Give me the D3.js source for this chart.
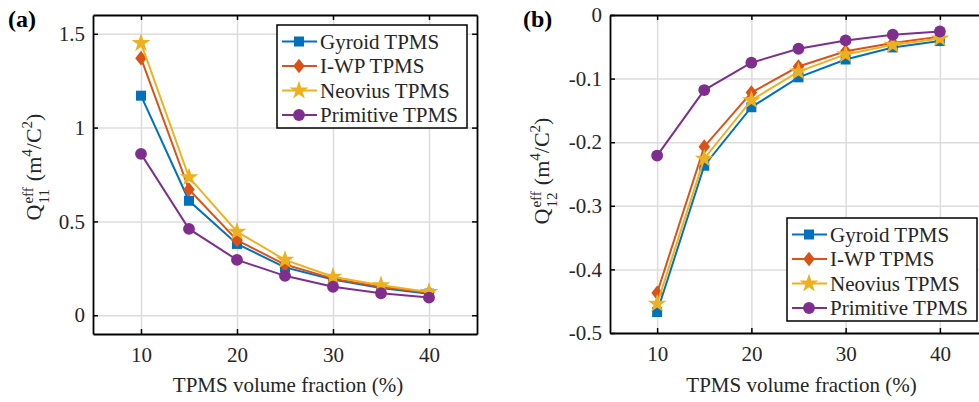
<!DOCTYPE html>
<html>
<head>
<meta charset="utf-8">
<script src="https://cdn.jsdelivr.net/npm/d3@7"></script>
<style>
  body { margin: 0; background: #fff; }
  svg { display: block; font-family: "Liberation Serif", "Times New Roman", serif; }
</style>
</head>
<body>
<svg id="chart" width="979" height="402"></svg>
<script>
// values
var fractions = [10, 15, 20, 25, 30, 35, 40];
var seriesNames = ["Gyroid TPMS", "I-WP TPMS", "Neovius TPMS", "Primitive TPMS"];

var gyroidQ11 = [1.17, 0.61, 0.38, 0.255, 0.19, 0.145, 0.115];
var iwpQ11 = [1.37, 0.67, 0.40, 0.27, 0.195, 0.15, 0.12];
var neoviusQ11 = [1.45, 0.735, 0.445, 0.295, 0.205, 0.16, 0.124];
var primitiveQ11 = [0.86, 0.46, 0.295, 0.21, 0.152, 0.117, 0.094];

var gyroidQ12 = [-0.467, -0.237, -0.145, -0.098, -0.070, -0.051, -0.041];
var iwpQ12 = [-0.437, -0.207, -0.122, -0.081, -0.057, -0.044, -0.034];
var neoviusQ12 = [-0.454, -0.226, -0.134, -0.089, -0.062, -0.047, -0.037];
var primitiveQ12 = [-0.221, -0.118, -0.075, -0.053, -0.040, -0.031, -0.026];

var xTicks = [10, 20, 30, 40];
var yTicksA = [0, 0.5, 1, 1.5];
var yTicksB = [-0.5, -0.4, -0.3, -0.2, -0.1, 0];

var colors = ["#0072BD", "#D95319", "#EDB120", "#7E2F8E"];
var textColor = "#262626";

var diamondType = {
  draw: function (ctx, size) {
    var r = Math.sqrt(size);
    ctx.moveTo(0, -r * 0.7);
    ctx.lineTo(r * 0.55, 0);
    ctx.lineTo(0, r * 0.7);
    ctx.lineTo(-r * 0.55, 0);
    ctx.closePath();
  }
};
var markerTypes = [d3.symbolSquare, diamondType, d3.symbolStar, d3.symbolCircle];
var markerSizes = [100, 110, 110, 110];

var svg = d3.select("#chart");

function drawPanel(p) {
  var x = d3.scaleLinear().domain([5, 45]).range([p.left, p.left + p.width]);
  var y = d3.scaleLinear().domain(p.yDomain).range([p.top + p.height, p.top]);
  var g = svg.append("g");

  // grid
  g.append("g")
    .attr("transform", "translate(0," + (p.top + p.height) + ")")
    .call(d3.axisBottom(x).tickValues(xTicks).tickSize(-p.height).tickFormat(""))
    .call(function (s) {
      s.select(".domain").remove();
      s.selectAll("line").attr("stroke", "#dcdcdc").attr("stroke-width", 1.5);
    });
  g.append("g")
    .attr("transform", "translate(" + p.left + ",0)")
    .call(d3.axisLeft(y).tickValues(p.yTicks).tickSize(-p.width).tickFormat(""))
    .call(function (s) {
      s.select(".domain").remove();
      s.selectAll("line").attr("stroke", "#dcdcdc").attr("stroke-width", 1.5);
    });

  // series
  var line = d3.line().x(function (d, i) { return x(fractions[i]); }).y(function (d) { return y(d); });
  p.values.forEach(function (vals, k) {
    g.append("path").datum(vals)
      .attr("d", line)
      .attr("fill", "none")
      .attr("stroke", colors[k])
      .attr("stroke-width", 2);
    g.selectAll(".m" + k).data(vals).join("path")
      .attr("transform", function (d, i) { return "translate(" + x(fractions[i]) + "," + y(d) + ")"; })
      .attr("d", d3.symbol().type(markerTypes[k]).size(markerSizes[k]))
      .attr("fill", colors[k]);
  });

  // axes box with inward ticks
  function styleAxis(s) {
    s.select(".domain").attr("stroke", "#000").attr("stroke-width", 1.8);
    s.selectAll(".tick line").attr("stroke", "#000").attr("stroke-width", 1.5);
    s.selectAll("text").attr("fill", textColor).attr("font-size", 21)
      .attr("font-family", "Liberation Serif, Times New Roman, serif");
  }
  g.append("g")
    .attr("transform", "translate(0," + (p.top + p.height) + ")")
    .call(d3.axisBottom(x).tickValues(xTicks).tickSizeInner(-5).tickSizeOuter(0).tickPadding(13))
    .call(styleAxis);
  g.append("g")
    .attr("transform", "translate(0," + p.top + ")")
    .call(d3.axisTop(x).tickValues(xTicks).tickSizeInner(-5).tickSizeOuter(0).tickFormat(""))
    .call(styleAxis);
  g.append("g")
    .attr("transform", "translate(" + p.left + ",0)")
    .call(d3.axisLeft(y).tickValues(p.yTicks).tickSizeInner(-5).tickSizeOuter(0).tickPadding(8)
      .tickFormat(function (d) { return d3.format("")(d).replace("\u2212", "-"); }))
    .call(styleAxis);
  g.append("g")
    .attr("transform", "translate(" + (p.left + p.width) + ",0)")
    .call(d3.axisRight(y).tickValues(p.yTicks).tickSizeInner(-5).tickSizeOuter(0).tickFormat(""))
    .call(styleAxis);

  // x title
  g.append("text")
    .attr("x", p.left + p.width / 2 + 3)
    .attr("y", 392)
    .attr("text-anchor", "middle")
    .attr("font-size", 21)
    .attr("fill", textColor)
    .text("TPMS volume fraction (%)");

  // y title: Q_{ij}^{eff} (m^4/C^2)
  var yl = g.append("g").attr("transform", "translate(" + p.yLabelX + "," + p.yLabelY + ") rotate(-90)");
  var inner = yl.append("g");
  var cx = 0;
  function piece(str, size, dy) {
    var t = inner.append("text").attr("x", cx).attr("y", dy).attr("font-size", size)
      .attr("fill", textColor).text(str);
    return t.node().getComputedTextLength();
  }
  cx += piece("Q", 22, 0) + 1;
  var w1 = piece("eff", 15, -8);
  var w2 = piece(p.sub, 15, 8);
  cx += Math.max(w1, w2) + 6;
  cx += piece("(m", 22, 0);
  cx += piece("4", 15, -9);
  cx += piece("/C", 22, 0);
  cx += piece("2", 15, -9);
  cx += piece(")", 22, 0);
  inner.attr("transform", "translate(" + (-cx / 2) + ",0)");

  // panel label
  g.append("text")
    .attr("x", p.labelX)
    .attr("y", 27)
    .attr("font-size", 24)
    .attr("font-weight", "bold")
    .attr("fill", "#000")
    .text(p.label);

  // legend
  var lg = g.append("g").attr("transform", "translate(" + p.legendX + "," + p.legendY + ")");
  lg.append("rect").attr("width", 190).attr("height", 103)
    .attr("fill", "#fff").attr("stroke", "#000").attr("stroke-width", 1.5);
  seriesNames.forEach(function (name, k) {
    var cy = 16.5 + k * 24.5;
    lg.append("line").attr("x1", 5).attr("x2", 40).attr("y1", cy).attr("y2", cy)
      .attr("stroke", colors[k]).attr("stroke-width", 2);
    lg.append("path").attr("transform", "translate(22," + cy + ")")
      .attr("d", d3.symbol().type(markerTypes[k]).size(markerSizes[k]))
      .attr("fill", colors[k]);
    lg.append("text").attr("x", 43).attr("y", cy + 7).attr("font-size", 21)
      .attr("fill", textColor).text(name);
  });
}

drawPanel({
  left: 93, top: 15, width: 384, height: 319,
  yDomain: [-0.1, 1.6], yTicks: yTicksA,
  values: [gyroidQ11, iwpQ11, neoviusQ11, primitiveQ11],
  sub: "11", yLabelX: 41, yLabelY: 167, label: "(a)", labelX: 8,
  legendX: 277, legendY: 25
});
drawPanel({
  left: 610, top: 15, width: 377, height: 318,
  yDomain: [-0.5, 0], yTicks: yTicksB,
  values: [gyroidQ12, iwpQ12, neoviusQ12, primitiveQ12],
  sub: "12", yLabelX: 549, yLabelY: 171, label: "(b)", labelX: 523,
  legendX: 787, legendY: 218
});
</script>
</body>
</html>
